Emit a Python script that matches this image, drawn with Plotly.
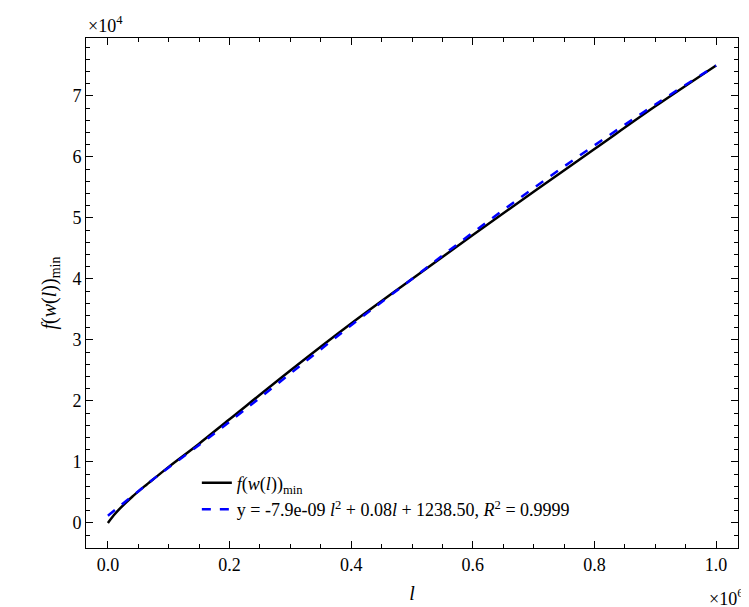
import plotly.graph_objects as go

# l in units of 1e6, values in units of 1e4
l_vals = [0.0, 0.01, 0.02, 0.04, 0.06, 0.08, 0.1, 0.15, 0.2, 0.3, 0.4, 0.5, 0.6, 0.7, 0.8, 0.9, 1.0]
f_min = [0.0, 0.13, 0.24, 0.43, 0.6, 0.76, 0.92, 1.3, 1.7, 2.5, 3.27, 4.0, 4.72, 5.43, 6.13, 6.83, 7.5]
fit = [0.12, 0.2, 0.28, 0.44, 0.6, 0.76, 0.91, 1.28, 1.66, 2.45, 3.24, 4.0, 4.76, 5.49, 6.19, 6.86, 7.5]

font = "Liberation Serif"
fig = go.Figure()
fig.add_trace(go.Scatter(x=l_vals, y=f_min, mode="lines", line=dict(color="black", width=2.5, shape="spline"),
                         name="<i>f</i>(<i>w</i>(<i>l</i>))<sub>min</sub>"))
fig.add_trace(go.Scatter(x=l_vals, y=fit, mode="lines", line=dict(color="blue", width=2.5, dash="dash", shape="spline"),
                         name="y = -7.9e-09 <i>l</i><sup>2</sup> + 0.08<i>l</i> + 1238.50, <i>R</i><sup>2</sup> = 0.9999"))
axcommon = dict(showgrid=False, zeroline=False, showline=True, linecolor="black", linewidth=1,
                mirror="ticks", ticks="inside", ticklen=7, tickcolor="black",
                minor=dict(ticks="inside", ticklen=4, tickcolor="black"),
                tickfont=dict(size=18, color="black"))
fig.update_xaxes(range=[-0.036, 1.036], tickvals=[0, 0.2, 0.4, 0.6, 0.8, 1.0],
                 ticktext=["0.0", "0.2", "0.4", "0.6", "0.8", "1.0"], minor_dtick=0.05,
                 title=dict(text="<i>l</i>", font=dict(size=20, color="black"), standoff=12), **axcommon)
fig.update_yaxes(range=[-0.41, 7.95], dtick=1, minor_dtick=0.2,
                 title=dict(text="<i>f</i>(<i>w</i>(<i>l</i>))<sub>min</sub>", font=dict(size=20, color="black"), standoff=10),
                 **axcommon)
fig.update_layout(width=749, height=607, plot_bgcolor="white", paper_bgcolor="white",
                  font=dict(family=font, color="black"),
                  margin=dict(l=78, r=19, t=30, b=67),
                  legend=dict(x=0.17, y=0.04, xanchor="left", yanchor="bottom", font=dict(size=18),
                              bgcolor="rgba(0,0,0,0)"),
                  annotations=[
                      dict(text="×10<sup>4</sup>", xref="paper", yref="paper", x=0, y=1.0,
                           xanchor="left", yanchor="bottom", showarrow=False, font=dict(size=18)),
                      dict(text="×10<sup>6</sup>", xref="paper", yref="paper", x=1.01, y=-0.07,
                           xanchor="right", yanchor="top", showarrow=False, font=dict(size=18)),
                  ])
fig.write_html("out.html")
